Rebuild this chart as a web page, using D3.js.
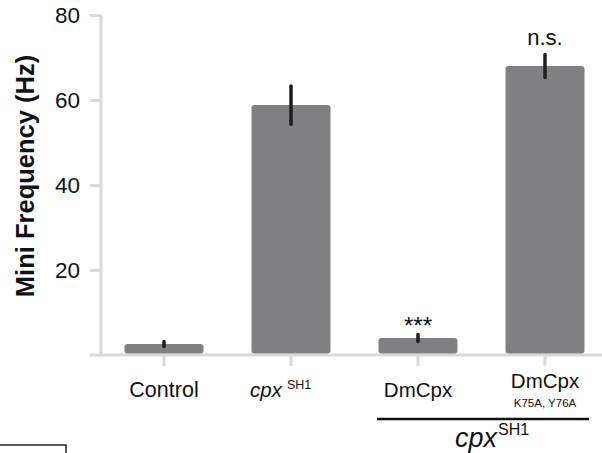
<!DOCTYPE html>
<html>
<head>
<meta charset="utf-8">
<script src="https://cdn.jsdelivr.net/npm/d3@7"></script>
<style>
  body { margin: 0; background: #fff; }
  text { font-family: "Liberation Sans", Arial, sans-serif; fill: #111; }
</style>
</head>
<body>
<div class="canvas"></div>
<script>
// data
const groups = ['Control', 'cpxSH1', 'DmCpx', 'DmCpxK75A'];
const means = [2.6, 58.8, 4.0, 68.0];
const errors = [0.6, 4.5, 0.8, 2.7];
const marks = ['', '', '***', 'n.s.'];
const yTicks = [20, 40, 60, 80];

const svg = d3.select('.canvas')
  .append('svg')
    .attr('width', 602)
    .attr('height', 453);

const axisColor = '#d9d9d9';

const y = d3.scaleLinear()
  .domain([0, 80])
  .range([355, 15]);

const x = d3.scaleBand()
  .domain(groups)
  .range([100.5, 608.5])
  .paddingInner(0.378)
  .paddingOuter(0.189);

// y axis
const yAxisGroup = svg.append('g')
  .attr('transform', 'translate(101, 0)')
  .call(d3.axisLeft(y).tickValues(yTicks).tickSize(11).tickSizeOuter(0).tickPadding(10));

yAxisGroup.select('.domain')
  .attr('d', `M0,${y(0)}V${y(80)}`)
  .attr('stroke', axisColor)
  .attr('stroke-width', 3);
yAxisGroup.selectAll('.tick line')
  .attr('stroke', axisColor)
  .attr('stroke-width', 3);
yAxisGroup.selectAll('.tick text')
  .attr('font-size', 22.5)
  .attr('fill', '#111');

// x axis
const xAxisGroup = svg.append('g')
  .attr('transform', `translate(0, ${y(0)})`)
  .call(d3.axisBottom(x).tickSize(11).tickFormat(''));

xAxisGroup.select('.domain')
  .attr('d', 'M90,0H602')
  .attr('stroke', axisColor)
  .attr('stroke-width', 3);
xAxisGroup.selectAll('.tick line')
  .attr('stroke', axisColor)
  .attr('stroke-width', 3);

// bars
svg.selectAll('rect.bar')
  .data(groups)
  .enter()
  .append('rect')
    .attr('class', 'bar')
    .attr('x', d => x(d))
    .attr('y', (d, i) => y(means[i]))
    .attr('width', x.bandwidth())
    .attr('height', (d, i) => y(0) - y(means[i]) - 1.5)
    .attr('rx', 3)
    .attr('fill', '#808083');

// error bars
svg.selectAll('line.err')
  .data(groups)
  .enter()
  .append('line')
    .attr('class', 'err')
    .attr('x1', d => x(d) + x.bandwidth() / 2)
    .attr('x2', d => x(d) + x.bandwidth() / 2)
    .attr('y1', (d, i) => y(means[i] + errors[i]))
    .attr('y2', (d, i) => y(means[i] - errors[i]))
    .attr('stroke', '#1e1e1e')
    .attr('stroke-width', 3.5)
    .attr('stroke-linecap', 'round');

// significance marks
svg.selectAll('text.sig')
  .data(groups)
  .enter()
  .append('text')
    .attr('class', 'sig')
    .attr('x', d => x(d) + x.bandwidth() / 2)
    .attr('y', (d, i) => y(means[i] + errors[i]) - (marks[i] === '***' ? 1 : 10))
    .attr('text-anchor', 'middle')
    .attr('font-size', (d, i) => marks[i] === '***' ? 24 : 22)
    .text((d, i) => marks[i]);

// category labels
const cx = d => x(d) + x.bandwidth() / 2;

svg.append('text')
  .attr('x', cx('Control')).attr('y', 397)
  .attr('text-anchor', 'middle').attr('font-size', 21.5)
  .text('Control');

const cpxLabel = svg.append('text')
  .attr('x', 250).attr('y', 397)
  .attr('font-size', 20.5);
cpxLabel.append('tspan').attr('font-style', 'italic').text('cpx');
cpxLabel.append('tspan').attr('font-size', 12.5).attr('dx', 5).attr('dy', -8).text('SH1');

svg.append('text')
  .attr('x', cx('DmCpx')).attr('y', 397)
  .attr('text-anchor', 'middle').attr('font-size', 20.5)
  .text('DmCpx');

svg.append('text')
  .attr('x', cx('DmCpxK75A')).attr('y', 388)
  .attr('text-anchor', 'middle').attr('font-size', 20.5)
  .text('DmCpx');

svg.append('text')
  .attr('x', cx('DmCpxK75A')).attr('y', 407)
  .attr('text-anchor', 'middle').attr('font-size', 11.5)
  .text('K75A, Y76A');

// group bracket
svg.append('line')
  .attr('x1', 377).attr('x2', 589)
  .attr('y1', 419).attr('y2', 419)
  .attr('stroke', '#111').attr('stroke-width', 2.5);

const groupLabel = svg.append('text')
  .attr('x', 455).attr('y', 447)
  .attr('font-size', 27);
groupLabel.append('tspan').attr('font-style', 'italic').text('cpx');
groupLabel.append('tspan').attr('font-size', 16).attr('dx', 1).attr('dy', -12).text('SH1');

// y axis title
svg.append('text')
  .attr('transform', 'translate(34, 176) rotate(-90)')
  .attr('text-anchor', 'middle')
  .attr('font-size', 25.5)
  .attr('font-weight', 'bold')
  .text('Mini Frequency (Hz)');

// stray frame corner at bottom left
svg.append('path')
  .attr('d', 'M0,445H66V453')
  .attr('fill', 'none')
  .attr('stroke', '#222')
  .attr('stroke-width', 1.5);
</script>
</body>
</html>
